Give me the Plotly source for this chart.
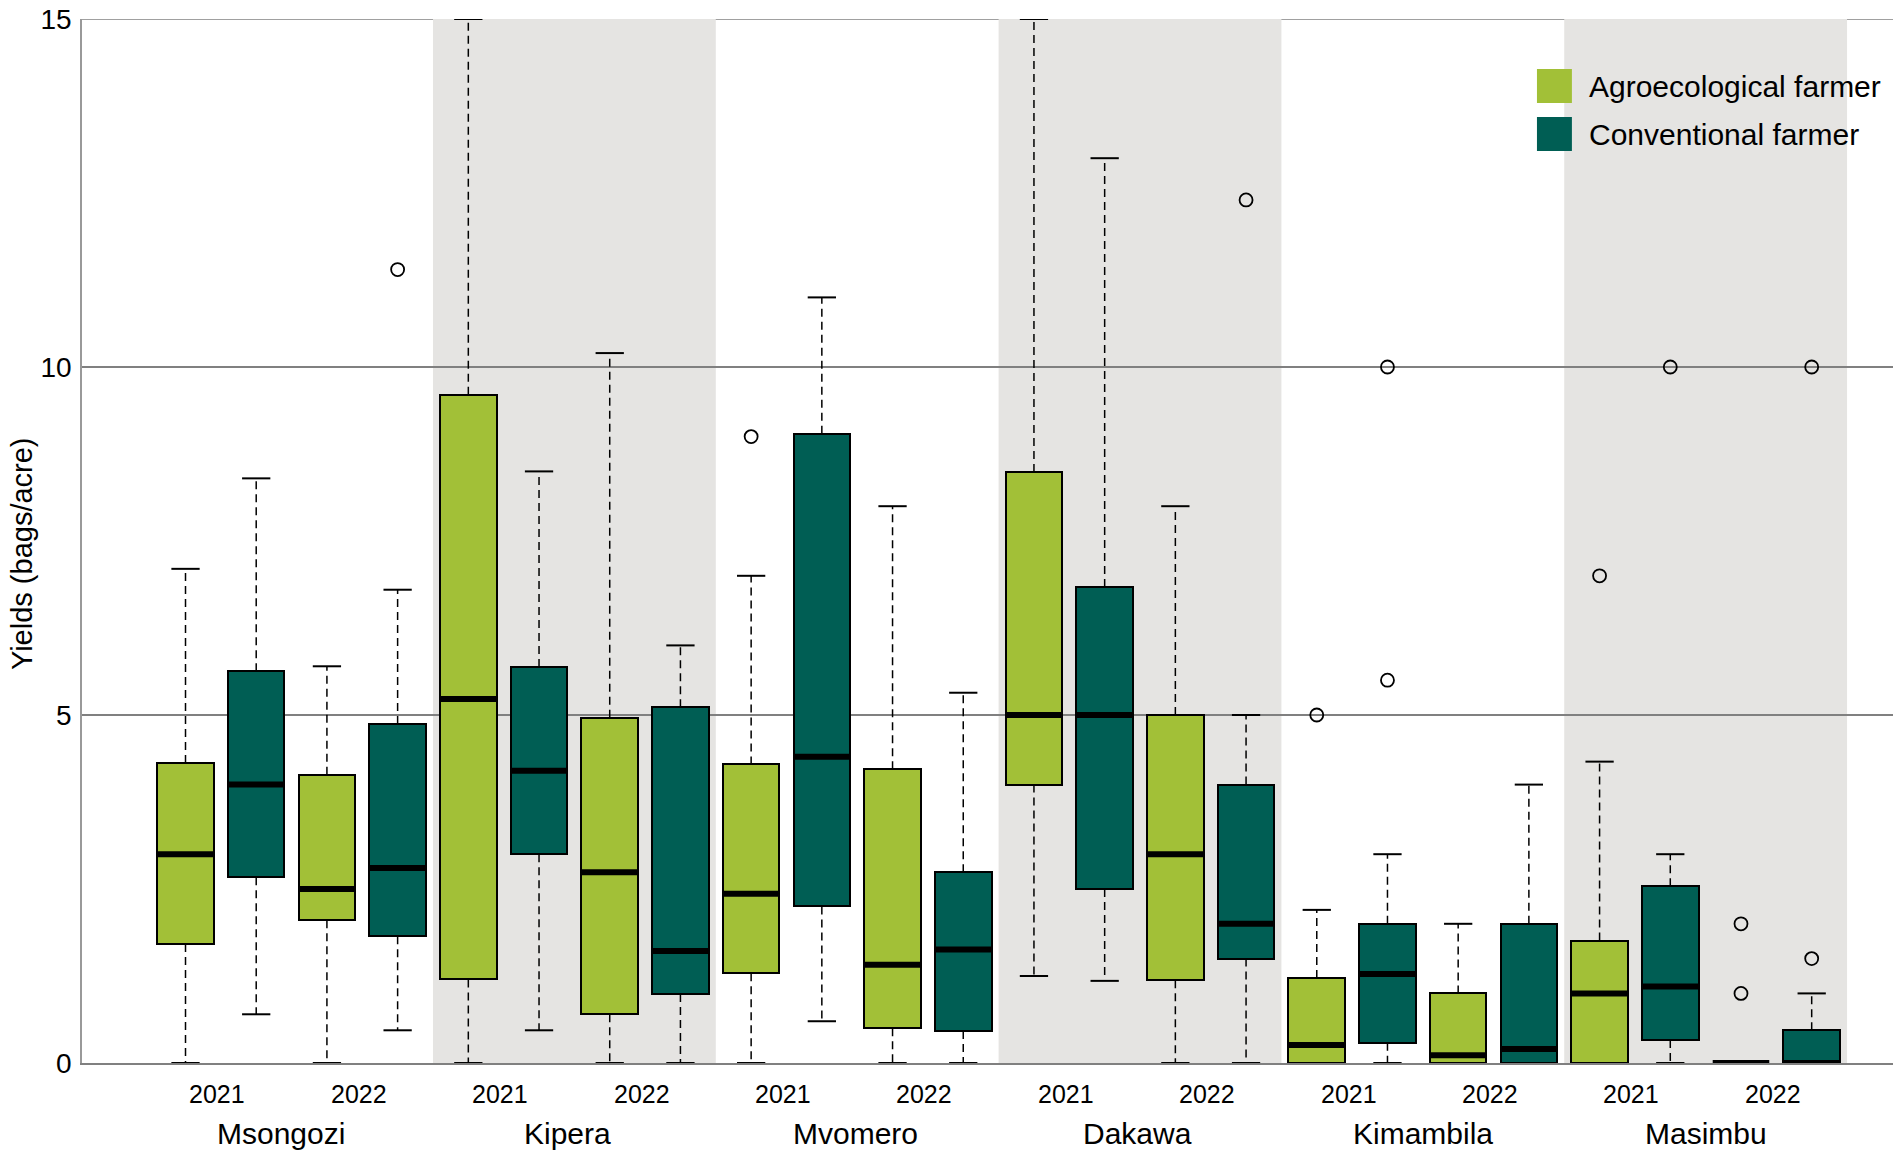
import plotly.graph_objects as go

# Maize yields by farmer type, village and year (bags/acre)
regions = ['Msongozi', 'Kipera', 'Mvomero', 'Dakawa', 'Kimambila', 'Masimbu']
years = ['2021', '2022']
farmer_types = ['Agroecological farmer', 'Conventional farmer']
colors = ['#a2c037', '#005e54']

# one value per region/year: Msongozi 2021, Msongozi 2022, Kipera 2021, ...
agro_lower = [0, 0, 0, 0, 0, 0, 1.25, 0, 0, 0, 0, 0]
agro_q1 = [1.71, 2.05, 1.2, 0.7, 1.29, 0.5, 4.0, 1.19, 0, 0, 0, 0]
agro_median = [3.0, 2.5, 5.23, 2.74, 2.43, 1.41, 5.0, 3.0, 0.26, 0.11, 1.0, 0]
agro_q3 = [4.31, 4.14, 9.6, 4.96, 4.29, 4.22, 8.49, 5.0, 1.22, 1.0, 1.76, 0]
agro_upper = [7.1, 5.7, 15.0, 10.2, 7.0, 8.0, 15.0, 8.0, 2.2, 2.0, 4.33, 0]

conv_lower = [0.7, 0.47, 0.47, 0, 0.6, 0, 1.18, 0, 0, 0, 0, 0]
conv_q1 = [2.67, 1.82, 3.0, 0.99, 2.25, 0.46, 2.5, 1.5, 0.29, 0, 0.33, 0]
conv_median = [4.0, 2.8, 4.2, 1.61, 4.4, 1.63, 5.0, 2.0, 1.28, 0.2, 1.1, 0]
conv_q3 = [5.63, 4.87, 5.69, 5.11, 9.04, 2.74, 6.84, 4.0, 2.0, 2.0, 2.54, 0.47]
conv_upper = [8.4, 6.8, 8.5, 6.0, 11.0, 5.32, 13.0, 5.0, 3.0, 4.0, 3.0, 1.0]

# outliers: (box index 0-11, value)
agro_outliers = [(4, 9.0), (8, 5.0), (10, 7.0), (11, 2.0), (11, 1.0)]
conv_outliers = [(1, 11.4), (7, 12.4), (8, 10.0), (8, 5.5), (10, 10.0),
                 (11, 10.0), (11, 1.5)]

y_ticks = [0, 5, 10, 15]

stats = [
    (agro_lower, agro_q1, agro_median, agro_q3, agro_upper, agro_outliers),
    (conv_lower, conv_q1, conv_median, conv_q3, conv_upper, conv_outliers),
]

BOX_W = 0.8
CAP_W = 0.4
FONT = 'Liberation Sans, Arial, Helvetica, sans-serif'


def box_pos(i, t):
    # i = region*2 + year, t = farmer type
    return 2 * i + t + 1


fig = go.Figure()

whisk_x, whisk_y, cap_x, cap_y = [], [], [], []
for t, (lo, q1, med, q3, up, outl) in enumerate(stats):
    for i in range(len(q1)):
        p = box_pos(i, t)
        whisk_x += [p, p, None, p, p, None]
        whisk_y += [q3[i], up[i], None, q1[i], lo[i], None]
        cap_x += [p - CAP_W / 2, p + CAP_W / 2, None, p - CAP_W / 2, p + CAP_W / 2, None]
        cap_y += [up[i], up[i], None, lo[i], lo[i], None]

fig.add_trace(go.Scatter(x=whisk_x, y=whisk_y, mode='lines', showlegend=False,
                         line=dict(color='black', width=1.5, dash='8px,5px'),
                         cliponaxis=False, hoverinfo='skip'))
fig.add_trace(go.Scatter(x=cap_x, y=cap_y, mode='lines', showlegend=False,
                         line=dict(color='black', width=2),
                         cliponaxis=False, hoverinfo='skip'))

for t, (lo, q1, med, q3, up, outl) in enumerate(stats):
    xs = [box_pos(i, t) for i in range(len(q1))]
    fig.add_trace(go.Bar(
        x=xs, y=[b - a for a, b in zip(q1, q3)], base=q1, width=BOX_W,
        name=farmer_types[t], showlegend=False,
        marker=dict(color=colors[t], line=dict(color='black', width=2)),
    ))

for t, (lo, q1, med, q3, up, outl) in enumerate(stats):
    mx, my = [], []
    for i in range(len(med)):
        p = box_pos(i, t)
        mx += [p - BOX_W / 2, p + BOX_W / 2, None]
        my += [med[i], med[i], None]
    fig.add_trace(go.Scatter(x=mx, y=my, mode='lines', showlegend=False,
                             line=dict(color='black', width=6),
                             cliponaxis=False, hoverinfo='skip'))
    fig.add_trace(go.Scatter(
        x=[box_pos(i, t) for i, v in outl], y=[v for i, v in outl],
        mode='markers', showlegend=False, cliponaxis=False,
        marker=dict(symbol='circle-open', size=13, color='black',
                    line=dict(width=1.8, color='black')),
    ))

# grey bands behind every second village
shapes = []
for g in range(1, len(regions), 2):
    shapes.append(dict(type='rect', xref='x', yref='y', x0=4 * g + 0.5, x1=4 * g + 4.5,
                       y0=0, y1=y_ticks[-1], fillcolor='#e5e4e2', line=dict(width=0),
                       layer='below'))
# top grid line (plotly drops the one sitting on the plot edge)
shapes.append(dict(type='line', xref='paper', yref='y', x0=0, x1=1, y0=y_ticks[-1],
                   y1=y_ticks[-1], line=dict(color='#808080', width=1.5), layer='below'))
# legend panel
shapes.append(dict(type='rect', xref='paper', yref='paper', x0=0.80, x1=1.0,
                   y0=0.8534, y1=0.9713, fillcolor='white', line=dict(width=0), layer='below'))
legend_rows = [0.9358, 0.8898]
annotations = []
for t, yc in enumerate(legend_rows):
    shapes.append(dict(type='rect', xref='paper', yref='paper', x0=0.8034, x1=0.8227,
                       y0=yc - 0.0163, y1=yc + 0.0163, fillcolor=colors[t],
                       line=dict(width=0)))
    annotations.append(dict(xref='paper', yref='paper', x=0.831, y=yc, text=farmer_types[t],
                            showarrow=False, xanchor='left', yanchor='middle',
                            font=dict(size=30, color='black', family=FONT)))

# year and village labels under the axis
year_offsets = [0.45, 2.45]
region_x = [2.35, 6.4, 10.48, 14.47, 18.5, 22.5]
for g, reg in enumerate(regions):
    for y, yr in enumerate(years):
        annotations.append(dict(xref='x', yref='paper', x=4 * g + year_offsets[y] + 1, y=-0.0295,
                                text=yr, showarrow=False, xanchor='center', yanchor='middle',
                                font=dict(size=25, color='black', family=FONT)))
    annotations.append(dict(xref='x', yref='paper', x=region_x[g], y=-0.068,
                            text=reg, showarrow=False, xanchor='center', yanchor='middle',
                            font=dict(size=30, color='black', family=FONT)))

annotations.append(dict(xref='paper', yref='paper', x=-0.0331, y=0.4875,
                        text='Yields (bags/acre)', textangle=-90, showarrow=False,
                        xanchor='center', yanchor='middle',
                        font=dict(size=29, color='black', family=FONT)))

fig.update_layout(
    width=1901, height=1158,
    margin=dict(l=82, r=8, t=19, b=95),
    plot_bgcolor='white', paper_bgcolor='white',
    font=dict(family=FONT, color='black'),
    shapes=shapes, annotations=annotations,
    bargap=0, showlegend=False,
)
fig.update_xaxes(range=[-0.464, 25.15], showgrid=False, zeroline=False,
                 showticklabels=False, ticks='', showline=True, automargin=False,
                 linecolor='#808080', linewidth=1.5)
fig.update_yaxes(range=[0, 15], tickvals=y_ticks, showgrid=True, automargin=False,
                 gridcolor='#808080', gridwidth=1.5, zeroline=False,
                 showline=True, linecolor='#999999', linewidth=1.5,
                 ticks='', ticklabelstandoff=3, ticklabeloverflow='allow',
                 tickfont=dict(size=28, color='black', family=FONT))

# drop the browser's default body margin so the figure fills the window exactly
fig.write_html('out.html', config={'displayModeBar': False},
               post_script="document.body.style.margin = '0';")
